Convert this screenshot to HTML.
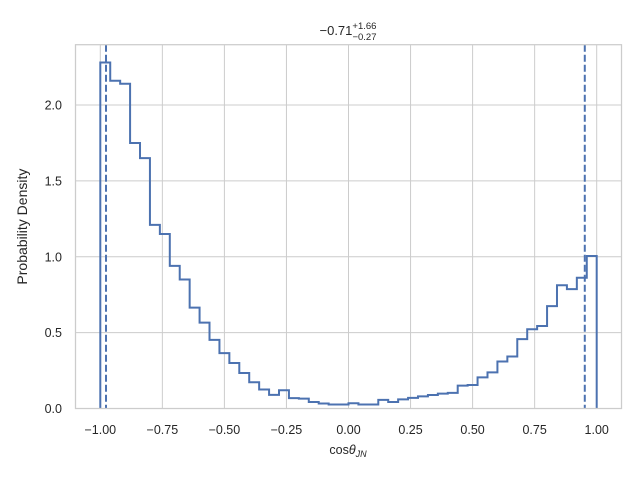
<!DOCTYPE html>
<html><head><meta charset="utf-8"><style>
body{margin:0;background:#fff;}
svg{display:block;font-family:"Liberation Sans","DejaVu Sans",sans-serif;}
</style></head><body>
<svg id="chart" width="640" height="480" viewBox="0 0 640 480">
<rect x="0" y="0" width="640" height="480" fill="#fff"/>
<g id="grid"></g>
<g id="ticks"></g>
<path id="hist" fill="none" stroke="#4c72b0" stroke-width="2"/>
<g id="vlines"></g>
<rect x="75.5" y="44.7" width="546" height="363.8" fill="none" stroke="#cccccc" stroke-width="1.25"/>
<text x="348" y="35" text-anchor="middle" font-size="13" fill="#262626">−0.71<tspan font-size="9.5" dy="-6">+1.66</tspan><tspan font-size="9.5" dx="-24" dy="11">−0.27</tspan></text>
<text x="348" y="454" text-anchor="middle" font-size="12.5" fill="#262626">cos<tspan font-style="italic">θ</tspan><tspan font-style="italic" font-size="9" dy="3">JN</tspan></text>
<text transform="translate(27,226.6) rotate(-90)" text-anchor="middle" font-size="14" fill="#262626">Probability Density</text>
</svg>
<script>
const binEdgesStart = -1, binWidth = 0.04;
const densities = [2.28,2.16,2.14,1.75,1.65,1.21,1.15,0.94,0.85,0.665,0.566,0.452,0.365,0.30,0.234,0.173,0.125,0.09,0.12,0.068,0.065,0.043,0.033,0.026,0.026,0.035,0.026,0.026,0.057,0.043,0.06,0.07,0.08,0.089,0.098,0.103,0.151,0.155,0.205,0.238,0.31,0.343,0.457,0.522,0.544,0.675,0.812,0.787,0.862,1.005];
const intervalLines = [-0.977, 0.952];
const xTicks = [-1,-0.75,-0.5,-0.25,0,0.25,0.5,0.75,1];
const xTickLabels = ["−1.00","−0.75","−0.50","−0.25","0.00","0.25","0.50","0.75","1.00"];
const yTicks = [0,0.5,1,1.5,2];
const yTickLabels = ["0.0","0.5","1.0","1.5","2.0"];
const X = v => 348.5 + v*248.2;
const Y = v => 408.5 - v*151.75;
const ns = "http://www.w3.org/2000/svg";
const grid = document.getElementById('grid'), ticks = document.getElementById('ticks');
function mk(tag, attrs, parent){const e=document.createElementNS(ns,tag);for(const k in attrs)e.setAttribute(k,attrs[k]);parent.appendChild(e);return e;}
xTicks.forEach((v,i)=>{
  const l=mk('line',{x1:X(v),x2:X(v),y1:44.7,y2:408.5,stroke:'#cccccc','stroke-width':1},grid);
  
  
  const t=mk('text',{x:X(v),y:434,'text-anchor':'middle','font-size':12.5,fill:'#262626'},ticks);
  t.textContent=xTickLabels[i];
  
  
});
yTicks.forEach((v,i)=>{
  const l=mk('line',{x1:75.5,x2:621.5,y1:Y(v),y2:Y(v),stroke:'#cccccc','stroke-width':1},grid);
  
  
  const t=mk('text',{x:62,y:Y(v)+4.5,'text-anchor':'end','font-size':12.5,fill:'#262626'},ticks);
  t.textContent=yTickLabels[i];
  
  
});
let d = 'M'+X(binEdgesStart)+','+Y(0);
densities.forEach((h,i)=>{
  const x0=X(binEdgesStart+i*binWidth), x1=X(binEdgesStart+(i+1)*binWidth);
  d+=' L'+x0+','+Y(h)+' L'+x1+','+Y(h);
});
d+=' L'+X(binEdgesStart+densities.length*binWidth)+','+Y(0);
document.getElementById('hist').setAttribute('d',d);
const vl=document.getElementById('vlines');
intervalLines.forEach(v=>{
  const l=mk('line',{x1:X(v),x2:X(v),y1:44.7,y2:408.5,stroke:'#4c72b0','stroke-width':2,'stroke-dasharray':'7,3'},vl);
  
  
});
</script>
</body></html>
